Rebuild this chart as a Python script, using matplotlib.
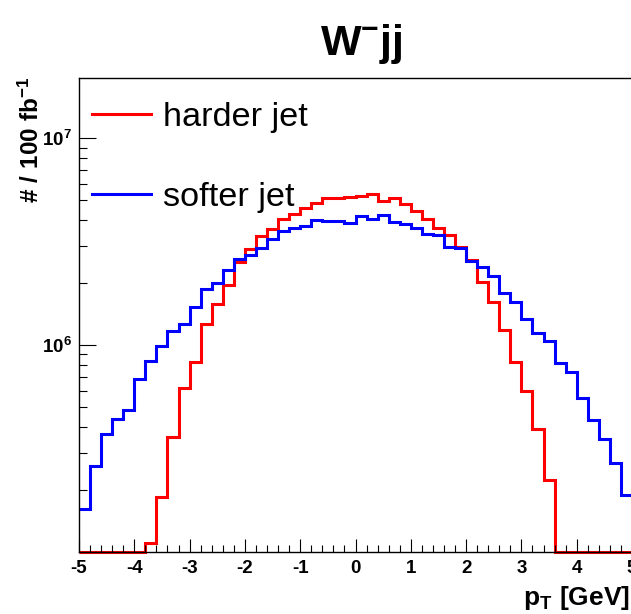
import numpy as np
import matplotlib
matplotlib.use("Agg")
import matplotlib.pyplot as plt
from matplotlib import ticker

plt.rcParams['font.family'] = ['Liberation Sans', 'DejaVu Sans']
plt.rcParams['mathtext.fontset'] = 'custom'
plt.rcParams['mathtext.rm'] = 'Liberation Sans:bold'
plt.rcParams['mathtext.it'] = 'Liberation Sans:bold'
plt.rcParams['mathtext.bf'] = 'Liberation Sans:bold'
plt.rcParams['mathtext.default'] = 'rm'

# pT histogram, 50 bins from -5 to 5 (counts per 100 fb^-1)
bin_edges = np.linspace(-5, 5, 51)

harder_jet = [0, 0, 0, 0, 0, 0,
              1.11e5, 1.84e5, 3.61e5, 6.18e5, 8.3e5, 1.27e6, 1.58e6, 1.96e6, 2.53e6, 2.90e6,
              3.36e6, 3.62e6, 4.06e6, 4.31e6, 4.61e6, 4.84e6, 5.12e6, 5.12e6, 5.17e6,
              5.25e6, 5.36e6, 4.98e6, 5.12e6, 4.80e6, 4.44e6, 4.05e6, 3.69e6, 3.40e6,
              2.98e6, 2.57e6, 2.02e6, 1.62e6, 1.18e6, 8.3e5, 6.0e5, 3.93e5, 2.23e5,
              0, 0, 0, 0, 0, 0, 0]

softer_jet = [1.61e5, 2.61e5, 3.70e5, 4.38e5, 4.85e5, 6.87e5, 8.37e5, 9.9e5, 1.17e6, 1.26e6,
              1.53e6, 1.87e6, 2.0e6, 2.30e6, 2.61e6, 2.72e6, 2.95e6, 3.24e6, 3.55e6, 3.69e6,
              3.76e6, 4.02e6, 3.99e6, 3.97e6, 3.87e6,
              4.20e6, 4.05e6, 4.25e6, 3.94e6, 3.83e6, 3.69e6, 3.42e6, 3.40e6, 2.98e6, 2.95e6,
              2.55e6, 2.39e6, 2.16e6, 1.79e6, 1.62e6, 1.33e6, 1.14e6, 1.04e6, 8.22e5, 7.43e5,
              5.52e5, 4.34e5, 3.50e5, 2.70e5, 1.88e5]

labels = ["harder jet", "softer jet"]
ymin, ymax = 1e5, 1.95e7

fig = plt.figure(figsize=(6.31, 6.14), dpi=100)
ax = fig.add_axes([79/631, 62/614, 553/631, 474/614])

# values below the axis minimum are drawn on the bottom edge, as ROOT does
ax.stairs(np.clip(harder_jet, ymin, None), bin_edges, baseline=None,
          color='#ff0000', lw=2.2, label=labels[0], clip_on=False)
ax.stairs(np.clip(softer_jet, ymin, None), bin_edges, baseline=None,
          color='#0000ff', lw=2.2, label=labels[1], clip_on=False)

ax.set_yscale('log')
ax.set_xlim(-5, 5)
ax.set_ylim(ymin, ymax)

ax.xaxis.set_major_locator(ticker.MultipleLocator(1))
ax.xaxis.set_minor_locator(ticker.MultipleLocator(0.2))
ax.xaxis.set_major_formatter(ticker.FuncFormatter(lambda v, p: '%d' % round(v)))
ax.yaxis.set_major_locator(ticker.FixedLocator([1e6, 1e7]))
ax.yaxis.set_minor_locator(ticker.LogLocator(base=10, subs=np.arange(2, 10)))
ax.yaxis.set_minor_formatter(ticker.NullFormatter())
ax.yaxis.set_major_formatter(ticker.FuncFormatter(lambda v, p: r'$10^{%d}$' % round(np.log10(v))))

ax.tick_params(axis='x', which='major', direction='in', length=9.5, width=0.8, pad=6,
               labelsize=13.5)
ax.tick_params(axis='x', which='minor', direction='in', length=4.8, width=0.8)
ax.tick_params(axis='y', which='major', direction='in', length=12, width=0.8, pad=5,
               labelsize=13.5)
ax.tick_params(axis='y', which='minor', direction='in', length=6, width=0.8)
for lab in ax.get_xticklabels():
    lab.set_fontweight('bold')

for s in ax.spines.values():
    s.set_linewidth(1.0)

fig.text(361/631, 1 - 55/614, r'$W^{-}jj$', fontsize=31, ha='center', va='baseline')
fig.text(31/631, 1 - 77/614, r'$\#\ /\ 100\ fb^{-1}$', fontsize=17.5, rotation=90,
         ha='center', va='top')
fig.text(630/631, 1 - 598/614, r'$p_{T}\ [GeV]$', fontsize=19, ha='right', va='center')

ax.legend(loc='upper left', bbox_to_anchor=(13/553, (552-102)/474), frameon=False,
          fontsize=24.7, handlelength=1.72, handletextpad=0.36, labelspacing=1.43,
          borderpad=0, borderaxespad=0)

fig.savefig('out.png', dpi=100)
